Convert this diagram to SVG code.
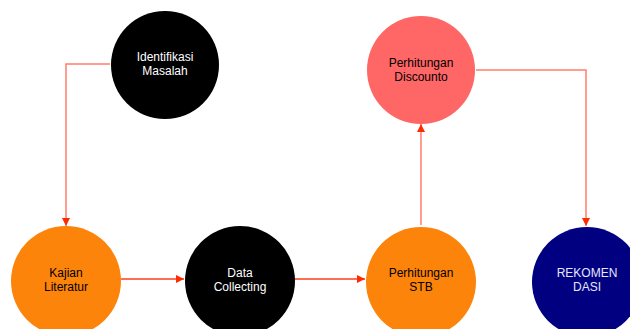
<svg xmlns="http://www.w3.org/2000/svg" width="630" height="329" viewBox="0 0 630 329">
<style>
text{font-family:"Liberation Sans",Arial,sans-serif;font-size:12px;text-anchor:middle}
.w{fill:#ffffff}.k{fill:#000000}.l{fill:#e6e6ff}
.c1{fill:none;stroke:#ff7d6b;stroke-width:1.5}
.c2{fill:none;stroke:#ff3b1f;stroke-width:1.5}
</style>
<defs>
<marker id="ah" viewBox="0 0 10 10" refX="10" refY="5" markerWidth="8" markerHeight="8" markerUnits="userSpaceOnUse" orient="auto">
<path d="M0,0 L10,5 L0,10 z" fill="#ff2a00"/>
</marker>
</defs>
<g id="connectors">
<path class="c1" d="M110,64 H66 V226" marker-end="url(#ah)"/>
<path class="c2" d="M121,279 H184" marker-end="url(#ah)"/>
<path class="c2" d="M295,279 H365" marker-end="url(#ah)"/>
<path class="c1" d="M421,225 V124" marker-end="url(#ah)"/>
<path class="c1" d="M476,70 H586 V226" marker-end="url(#ah)"/>
</g>
<g id="identifikasi"><circle cx="165" cy="65" r="54" fill="#000"/><text class="w" x="165" y="61">Identifikasi</text><text class="w" x="165" y="75">Masalah</text></g>
<g id="discounto"><circle cx="421" cy="70" r="54" fill="#ff6666"/><text class="k" x="421" y="67">Perhitungan</text><text class="k" x="421" y="81">Discounto</text></g>
<g id="kajian"><circle cx="66" cy="281" r="55" fill="#fd840b"/><text class="k" x="66" y="277">Kajian</text><text class="k" x="66" y="291">Literatur</text></g>
<g id="data"><circle cx="240" cy="281" r="55" fill="#000"/><text class="w" x="240" y="277">Data</text><text class="w" x="240" y="291">Collecting</text></g>
<g id="stb"><circle cx="421" cy="282" r="55" fill="#fd840b"/><text class="k" x="421" y="277">Perhitungan</text><text class="k" x="421" y="291">STB</text></g>
<g id="rekomendasi"><circle cx="587" cy="282" r="55" fill="#000080"/><text class="l" x="587" y="277">REKOMEN</text><text class="l" x="587" y="291">DASI</text></g>
</svg>
